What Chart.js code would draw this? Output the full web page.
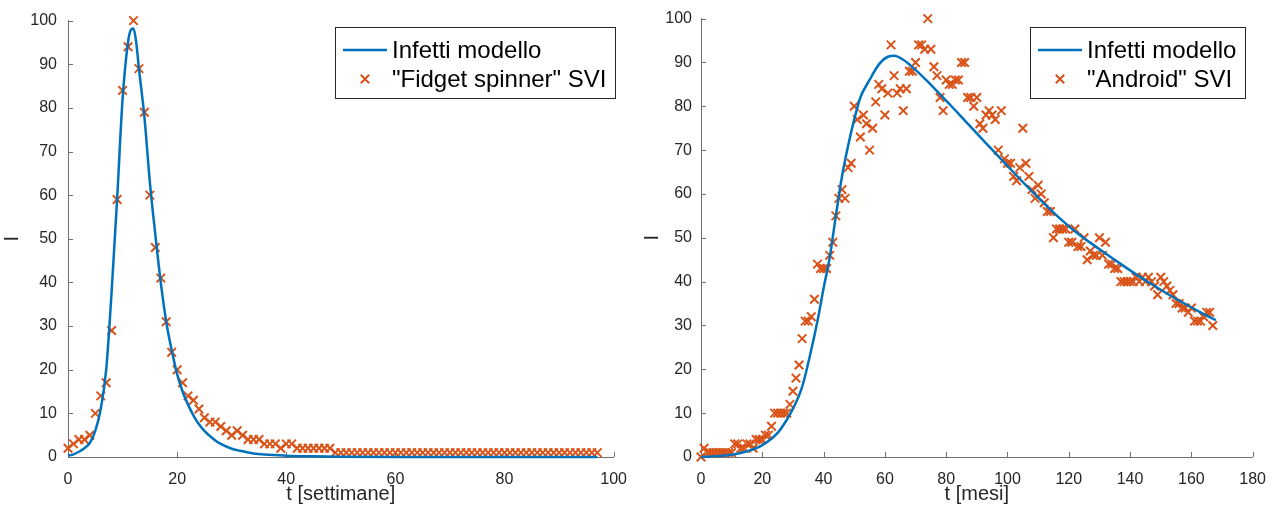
<!DOCTYPE html>
<html>
<head>
<meta charset="utf-8">
<script src="https://cdn.jsdelivr.net/npm/chart.js@4.4.1/dist/chart.umd.min.js"></script>
<style>
  html, body { margin: 0; padding: 0; background: #fff; }
  .wrap { position: absolute; top: 0; height: 510px; }
  #left { left: 0; width: 640px; }
  #right { left: 640px; width: 639px; }
</style>
</head>
<body>
<div class="wrap" id="left"><canvas id="weeks"></canvas></div>
<div class="wrap" id="right"><canvas id="months"></canvas></div>
<script>
// weekly search interest, index = week number
const fidgetSvi = [
  2, 3, 4, 4, 5, 10, 14, 17, 29, 59,
  84, 94, 100, 89, 79, 60, 48, 41, 31, 24,
  20, 17, 14, 13, 11, 9, 8, 8, 7, 6,
  5, 6, 5, 4, 4, 4, 3, 3, 3, 2,
  3, 3, 2, 2, 2, 2, 2, 2, 2, 1,
  1, 1, 1, 1, 1, 1, 1, 1, 1, 1,
  1, 1, 1, 1, 1, 1, 1, 1, 1, 1,
  1, 1, 1, 1, 1, 1, 1, 1, 1, 1,
  1, 1, 1, 1, 1, 1, 1, 1, 1, 1,
  1, 1, 1, 1, 1, 1, 1, 1
];
const weekModelT = [0, 1, 2, 3, 4, 5, 6, 7, 8, 9, 10, 11, 11.5, 12, 12.5, 13, 14, 15, 16, 17,
  18, 19, 20, 21, 22, 23, 24, 25, 26, 27, 28, 30, 32, 34, 36, 40, 45, 50, 60, 80, 97];
const weekModel = [0.3, 0.6, 1.2, 2.0, 3.2, 6, 11, 20, 38, 59, 82, 95, 97.8, 98.2, 95, 89, 78, 63, 51, 40,
  31, 24.5, 19, 15, 12, 9.5, 7.5, 6, 4.8, 3.8, 3, 1.9, 1.3, 0.8, 0.55, 0.3, 0.15, 0.08, 0.02, 0, 0];

// monthly search interest, index = month
const androidSvi = [
  0, 2, 1, 1, 1, 1, 1, 1, 1, 1,
  1, 3, 3, 2, 2, 3, 3, 2, 4, 4,
  4, 5, 5, 7, 10, 10, 10, 10, 10, 12,
  15, 18, 21, 27, 31, 31, 32, 36, 44, 43,
  43, 43, 46, 49, 55, 59, 61, 59, 66, 67,
  80, 77, 73, 78, 76, 70, 75, 81, 85, 84,
  78, 83, 94, 87, 83, 84, 79, 84, 88, 88,
  90, 94, 94, 93, 100, 93, 89, 87, 82, 79,
  86, 85, 85, 86, 86, 90, 90, 82, 82, 80,
  82, 76, 75, 78, 79, 78, 77, 70, 79, 68,
  67, 67, 64, 63, 66, 75, 67, 64, 61, 59,
  62, 60, 58, 56, 56, 50, 52, 52, 52, 52,
  49, 49, 52, 48, 48, 50, 45, 47, 46, 46,
  50, 46, 49, 44, 44, 43, 43, 40, 40, 40,
  40, 40, 41, 40, 41, 40, 41, 40, 39, 37,
  41, 40, 39, 38, 37, 35, 35, 34, 34, 33,
  34, 31, 31, 31, 32, 33, 33, 30
];
const monthModelT = [0, 5, 10, 15, 20, 25, 28, 30, 33, 36, 38, 40, 42, 44, 46, 48, 50, 52, 55, 58,
  61, 63, 66, 70, 74, 78, 82, 86, 90, 95, 100, 106, 111, 117, 122, 127, 132, 137, 143, 148,
  153, 158, 163, 168];
const monthModel = [0, 0.2, 0.5, 1.3, 2.7, 5.5, 8.5, 11, 16, 24.5, 31, 38.5, 45.5, 55, 64, 71, 77, 82, 86, 89.5,
  91.3, 91.5, 90.6, 88.3, 85.6, 82.7, 79.8, 76.8, 73.8, 70.1, 66.4, 62, 58.5, 54.5, 51.5, 48.9, 46.4, 44, 41.2, 39,
  36.9, 34.9, 33, 31.2];

const yTicks = [0, 10, 20, 30, 40, 50, 60, 70, 80, 90, 100];
const weekTicks = [0, 20, 40, 60, 80, 100];
const monthTicks = [0, 20, 40, 60, 80, 100, 120, 140, 160, 180];

const BLUE = '#0072bd';
const ORANGE = '#d95319';
const INK = '#262626';
const AXIS = '#707070';
const FONT = "'Liberation Sans', Arial, sans-serif";

const inwardTicks = {
  id: 'inwardTicks',
  beforeDatasetsDraw(chart) {
    const { ctx, chartArea: a, scales: { x, y } } = chart;
    ctx.save();
    ctx.strokeStyle = AXIS;
    ctx.lineWidth = 1;
    ctx.beginPath();
    x.ticks.forEach((t) => {
      const px = Math.round(x.getPixelForValue(t.value)) + 0.5;
      ctx.moveTo(px, a.bottom);
      ctx.lineTo(px, a.bottom - 5);
    });
    y.ticks.forEach((t) => {
      const py = Math.round(y.getPixelForValue(t.value)) + 0.5;
      ctx.moveTo(a.left, py);
      ctx.lineTo(a.left + 5, py);
    });
    ctx.stroke();
    ctx.restore();
  }
};

function boxLegend(box) {
  return {
    id: 'boxLegend',
    afterDraw(chart) {
      const { ctx } = chart;
      const [lineSet, markSet] = chart.data.datasets;
      ctx.save();
      ctx.fillStyle = '#fff';
      ctx.fillRect(box.x, box.y, box.w, box.h);
      ctx.strokeStyle = INK;
      ctx.lineWidth = 1;
      ctx.strokeRect(box.x + 0.5, box.y + 0.5, box.w, box.h);

      const row1 = box.y + 23;
      const row2 = box.y + 52;
      ctx.strokeStyle = BLUE;
      ctx.lineWidth = 2.5;
      ctx.beginPath();
      ctx.moveTo(box.x + 8, row1);
      ctx.lineTo(box.x + 52, row1);
      ctx.stroke();

      const cx = box.x + 30;
      const r = 4.2;
      ctx.strokeStyle = ORANGE;
      ctx.lineWidth = 2;
      ctx.beginPath();
      ctx.moveTo(cx - r, row2 - r); ctx.lineTo(cx + r, row2 + r);
      ctx.moveTo(cx - r, row2 + r); ctx.lineTo(cx + r, row2 - r);
      ctx.stroke();

      ctx.fillStyle = '#000';
      ctx.font = `24px ${FONT}`;
      ctx.textBaseline = 'middle';
      ctx.textAlign = 'left';
      ctx.fillText(lineSet.label, box.x + 57, row1 + 1);
      ctx.fillText(markSet.label, box.x + 57, row2 + 1);
      ctx.restore();
    }
  };
}

function makeConfig({ modelT, model, svi, sviLabel, xMax, xTicks, xTitle, yWidth, yTickPad, padRight, legend }) {
  return {
    type: 'line',
    data: {
      datasets: [
        {
          label: 'Infetti modello',
          data: modelT.map((t, i) => ({ x: t, y: model[i] })),
          borderColor: BLUE,
          borderWidth: 2.5,
          pointRadius: 0,
          fill: false,
          cubicInterpolationMode: 'monotone',
          clip: false
        },
        {
          label: sviLabel,
          data: svi.map((v, i) => ({ x: i, y: v })),
          showLine: false,
          pointStyle: 'crossRot',
          pointRadius: 6,
          pointBorderWidth: 2,
          pointBorderColor: ORANGE,
          pointBackgroundColor: ORANGE,
          clip: false
        }
      ]
    },
    options: {
      responsive: true,
      maintainAspectRatio: false,
      animation: false,
      layout: { padding: { left: 0, right: padRight, top: 18, bottom: 0 } },
      plugins: {
        legend: { display: false },
        tooltip: { enabled: false }
      },
      scales: {
        x: {
          type: 'linear',
          min: 0,
          max: xMax,
          afterFit: (s) => { s.height = 53; },
          afterBuildTicks: (s) => { s.ticks = xTicks.map((v) => ({ value: v })); },
          grid: { display: false, drawTicks: false },
          border: { display: true, color: AXIS, width: 1 },
          ticks: { color: INK, font: { family: FONT, size: 16 }, padding: 13, maxRotation: 0 },
          title: { display: true, text: xTitle, color: INK, font: { family: FONT, size: 20 }, padding: { top: 0, bottom: 4 } }
        },
        y: {
          type: 'linear',
          min: 0,
          max: 100,
          afterFit: (s) => { s.width = yWidth; },
          afterBuildTicks: (s) => { s.ticks = yTicks.map((v) => ({ value: v })); },
          grid: { display: false, drawTicks: false },
          border: { display: true, color: AXIS, width: 1 },
          ticks: { color: INK, font: { family: FONT, size: 16 }, padding: yTickPad },
          title: { display: true, text: 'I', color: INK, font: { family: FONT, size: 20 }, padding: { top: 0, bottom: 0 } }
        }
      }
    },
    plugins: [inwardTicks, boxLegend(legend)]
  };
}

new Chart(document.getElementById('weeks').getContext('2d'), makeConfig({
  modelT: weekModelT,
  model: weekModel,
  svi: fidgetSvi,
  sviLabel: '"Fidget spinner" SVI',
  xMax: 100,
  xTicks: weekTicks,
  xTitle: 't [settimane]',
  yWidth: 68,
  yTickPad: 11,
  padRight: 15,
  legend: { x: 335, y: 27, w: 280, h: 71 }
}));

new Chart(document.getElementById('months').getContext('2d'), makeConfig({
  modelT: monthModelT,
  model: monthModel,
  svi: androidSvi,
  sviLabel: '"Android" SVI',
  xMax: 180,
  xTicks: monthTicks,
  xTitle: 't [mesi]',
  yWidth: 61,
  yTickPad: 9,
  padRight: 25,
  legend: { x: 390, y: 27, w: 215, h: 71 }
}));
</script>
</body>
</html>
